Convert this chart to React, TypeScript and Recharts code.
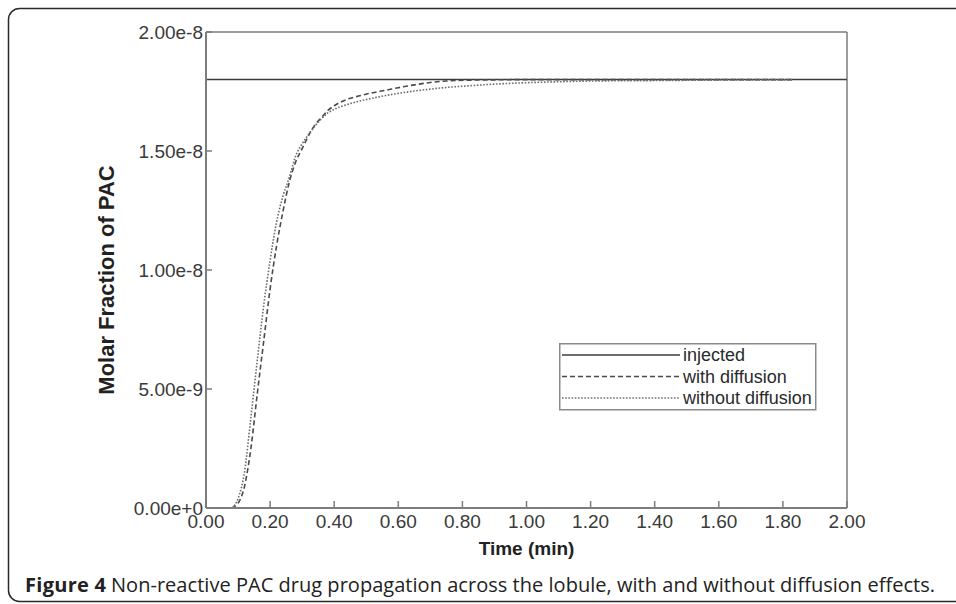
import { Legend, Line, LineChart, ReferenceLine, XAxis, YAxis } from "recharts";

// molar fraction values are listed in units of 1e-8
const SCALE = 1e-8;

const timeMin = [
  0.08, 0.1, 0.12, 0.14, 0.16, 0.18, 0.2, 0.22, 0.24, 0.26, 0.28, 0.3, 0.32, 0.34, 0.36, 0.38, 0.4,
  0.44, 0.48, 0.52, 0.56, 0.6, 0.65, 0.7, 0.75, 0.8, 0.9, 1.0, 1.1, 1.2, 1.4, 1.6, 1.83,
];
const withDiffusion = [
  0, 0.02, 0.09, 0.25, 0.48, 0.7, 0.92, 1.1, 1.245, 1.37, 1.455, 1.51, 1.565, 1.61, 1.64, 1.67, 1.69,
  1.717, 1.732, 1.745, 1.755, 1.766, 1.778, 1.788, 1.794, 1.797, 1.799, 1.8, 1.8, 1.8, 1.8, 1.8, 1.8,
];
const withoutDiffusion = [
  0, 0.04, 0.15, 0.38, 0.62, 0.85, 1.04, 1.2, 1.31, 1.39, 1.48, 1.53, 1.57, 1.605, 1.635, 1.66, 1.675,
  1.695, 1.71, 1.722, 1.733, 1.742, 1.752, 1.76, 1.767, 1.772, 1.781, 1.787, 1.791, 1.794, 1.796, 1.798, 1.799,
];
const injectedTime = [0, 2];
const injectedLevel = 1.8;

const xTicks = [0, 0.2, 0.4, 0.6, 0.8, 1.0, 1.2, 1.4, 1.6, 1.8, 2.0];
const yTicks = [0, 0.5, 1.0, 1.5, 2.0].map((v) => v * SCALE);

const series = [
  { key: "injected", name: "injected", color: "#3c3c3c", dash: undefined, width: 1.5 },
  { key: "withDiff", name: "with diffusion", color: "#4a4a4a", dash: "5 3", width: 1.6 },
  { key: "withoutDiff", name: "without diffusion", color: "#6e6e6e", dash: "1.6 1.6", width: 1.6 },
];

const injectedData = injectedTime.map((t) => ({ t, v: injectedLevel * SCALE }));
const withDiffData = timeMin.map((t, i) => ({ t, v: withDiffusion[i] * SCALE }));
const withoutDiffData = timeMin.map((t, i) => ({ t, v: withoutDiffusion[i] * SCALE }));
const seriesData: Record<string, { t: number; v: number }[]> = {
  injected: injectedData,
  withDiff: withDiffData,
  withoutDiff: withoutDiffData,
};

const AXIS = "#7d7d7d";
const TICK_TEXT = "#3a3a3a";
const FONT = "'Liberation Sans', Arial, sans-serif";

const XTick = (props: any) => {
  const { x, y, payload } = props;
  return (
    <g>
      <line x1={x} y1={y} x2={x} y2={y - 7} stroke={AXIS} strokeWidth={1.5} />
      <text x={x} y={y + 20} textAnchor="middle" fill={TICK_TEXT} fontSize={19} fontFamily={FONT}>
        {Number(payload.value).toFixed(2)}
      </text>
    </g>
  );
};

const YTick = (props: any) => {
  const { x, y, payload } = props;
  return (
    <g>
      <line x1={x} y1={y} x2={x + 6} y2={y} stroke={AXIS} strokeWidth={1.5} />
      <text x={x - 3} y={y + 7} textAnchor="end" fill={TICK_TEXT} fontSize={19} fontFamily={FONT}>
        {Number(payload.value).toExponential(2)}
      </text>
    </g>
  );
};

const LegendBox = () => (
  <svg width={258} height={68} style={{ display: "block", overflow: "visible" }}>
    <rect x={0.75} y={0.75} width={256} height={66} fill="#fff" stroke="#8a8a8a" strokeWidth={1.5} />
    {series.map((s, i) => {
      const cy = 12 + i * 21.5;
      return (
        <g key={s.key}>
          <line x1={3} y1={cy} x2={121} y2={cy} stroke={s.color} strokeWidth={s.width} strokeDasharray={s.dash} />
          <text x={124} y={cy + 6} fontSize={18} fontFamily={FONT} fill="#2a2a2a">
            {s.name}
          </text>
        </g>
      );
    })}
  </svg>
);

export default function App() {
  return (
    <div style={{ position: "absolute", left: 0, top: 0, width: 956, height: 604, background: "#fff" }}>
      <LineChart width={956} height={604} margin={{ top: 32, right: 109, bottom: 46, left: 0 }}>
        <XAxis
          dataKey="t"
          type="number"
          domain={[0, 2]}
          ticks={xTicks}
          interval={0}
          height={50}
          tickSize={0}
          tickMargin={0}
          tickLine={false}
          tick={<XTick />}
          axisLine={{ stroke: AXIS, strokeWidth: 2 }}
          allowDataOverflow
          label={{
            value: "Time (min)",
            position: "insideBottom",
            offset: 3,
            style: { fontFamily: FONT, fontWeight: 700, fontSize: 19, fill: "#222" },
          }}
        />
        <YAxis
          dataKey="v"
          type="number"
          domain={[0, 2 * SCALE]}
          ticks={yTicks}
          interval={0}
          width={206}
          tickSize={0}
          tickMargin={0}
          tickLine={false}
          tick={<YTick />}
          axisLine={{ stroke: AXIS, strokeWidth: 2 }}
          allowDataOverflow
          label={{
            value: "Molar Fraction of PAC",
            angle: -90,
            position: "insideLeft",
            offset: 106,
            dy: 10,
            style: { fontFamily: FONT, fontWeight: 700, fontSize: 22, fill: "#222", textAnchor: "middle" },
          }}
        />
        <ReferenceLine y={2 * SCALE} stroke={AXIS} strokeWidth={1.5} />
        <ReferenceLine x={2} stroke={AXIS} strokeWidth={1.5} />
        {series.map((s) => (
          <Line
            key={s.key}
            data={seriesData[s.key]}
            dataKey="v"
            name={s.name}
            type="monotone"
            stroke={s.color}
            strokeWidth={s.width}
            strokeDasharray={s.dash}
            dot={false}
            activeDot={false}
            isAnimationActive={false}
          />
        ))}
        {/* zero-height wrapper so the legend box floats over the plot without shrinking it */}
        <Legend
          content={<LegendBox />}
          wrapperStyle={{ position: "absolute", left: 559, top: 343, width: 258, height: 0, overflow: "visible" }}
        />
      </LineChart>
      <svg
        width={956}
        height={604}
        style={{ position: "absolute", left: 0, top: 0, pointerEvents: "none" }}
      >
        <rect x={8.5} y={8.5} width={1000} height={593} rx={11} fill="none" stroke="#2a2a2a" strokeWidth={1.5} />
        <text x={25} y={592} fontFamily="'Open Sans', sans-serif" fontSize={20} fill="#222" fontWeight={700} textLength={81}>
          Figure 4
        </text>
        <text x={111} y={592} fontFamily="'Open Sans', sans-serif" fontSize={20} fill="#222" textLength={824}>
          Non-reactive PAC drug propagation across the lobule, with and without diffusion effects.
        </text>
      </svg>
    </div>
  );
}
